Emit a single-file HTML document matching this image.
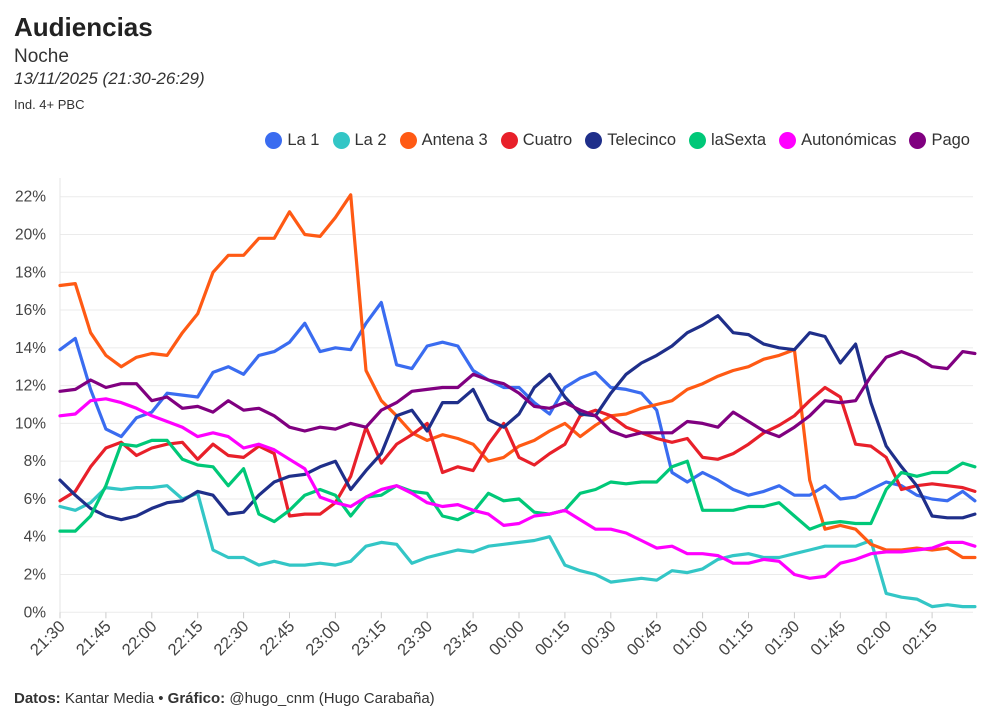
<!DOCTYPE html>
<html><head><meta charset="utf-8">
<style>
body{margin:0;background:#fff;font-family:"Liberation Sans",sans-serif;color:#333;}
#wrap{position:relative;width:1000px;height:724px;overflow:hidden;}
.t{position:absolute;left:14px;white-space:nowrap;}
#legend{position:absolute;top:131px;right:30px;display:flex;gap:13px;font-size:16.5px;color:#333;}
.li{display:flex;align-items:center;gap:5px;}
.dot{width:17px;height:17px;border-radius:50%;display:inline-block;}
</style></head>
<body><div id="wrap">
<div class="t" style="top:12px;font-size:26px;font-weight:bold;color:#222;">Audiencias</div>
<div class="t" style="top:46px;font-size:19px;color:#333;">Noche</div>
<div class="t" style="top:69px;font-size:17px;font-style:italic;color:#333;">13/11/2025 (21:30-26:29)</div>
<div class="t" style="top:97px;font-size:13px;color:#333;">Ind. 4+ PBC</div>
<div id="legend"></div>
<svg id="chart" width="1000" height="724" style="position:absolute;left:0;top:0"></svg>
<div class="t" style="top:690px;font-size:15px;color:#333;"><b>Datos:</b> Kantar Media • <b>Gráfico:</b> @hugo_cnm (Hugo Carabaña)</div>
</div>
<script>
const minutes=[0,5,10,15,20,25,30,35,40,45,50,55,60,65,70,75,80,85,90,95,100,105,110,115,120,125,130,135,140,145,150,155,160,165,170,175,180,185,190,195,200,205,210,215,220,225,230,235,240,245,250,255,260,265,270,275,280,285,290,295,299];
const seriesNames=["La 1","La 2","Antena 3","Cuatro","Telecinco","laSexta","Autonómicas","Pago"];
const la1=[13.9,14.5,11.8,9.7,9.3,10.3,10.6,11.6,11.5,11.4,12.7,13.0,12.6,13.6,13.8,14.3,15.3,13.8,14.0,13.9,15.3,16.4,13.1,12.9,14.1,14.3,14.1,12.8,12.3,11.9,11.9,11.1,10.5,11.9,12.4,12.7,11.9,11.8,11.6,10.7,7.4,6.9,7.4,7.0,6.5,6.2,6.4,6.7,6.2,6.2,6.7,6.0,6.1,6.5,6.9,6.7,6.2,6.0,5.9,6.4,5.9];
const la2=[5.6,5.4,5.8,6.6,6.5,6.6,6.6,6.7,6.0,6.3,3.3,2.9,2.9,2.5,2.7,2.5,2.5,2.6,2.5,2.7,3.5,3.7,3.6,2.6,2.9,3.1,3.3,3.2,3.5,3.6,3.7,3.8,4.0,2.5,2.2,2.0,1.6,1.7,1.8,1.7,2.2,2.1,2.3,2.8,3.0,3.1,2.9,2.9,3.1,3.3,3.5,3.5,3.5,3.8,1.0,0.8,0.7,0.3,0.4,0.3,0.3];
const antena3=[17.3,17.4,14.8,13.6,13.0,13.5,13.7,13.6,14.8,15.8,18.0,18.9,18.9,19.8,19.8,21.2,20.0,19.9,20.9,22.1,12.8,11.2,10.4,9.5,9.1,9.4,9.2,8.9,8.0,8.2,8.8,9.1,9.6,10.0,9.3,9.9,10.4,10.5,10.8,11.0,11.2,11.8,12.1,12.5,12.8,13.0,13.4,13.6,13.9,7.0,4.4,4.6,4.4,3.6,3.3,3.3,3.4,3.3,3.4,2.9,2.9];
const cuatro=[5.9,6.4,7.7,8.7,9.0,8.3,8.7,8.9,9.0,8.1,8.9,8.3,8.2,8.8,8.4,5.1,5.2,5.2,5.8,7.2,9.8,7.9,8.9,9.4,10.0,7.4,7.7,7.5,8.9,10.0,8.2,7.8,8.4,8.9,10.4,10.7,10.4,9.8,9.5,9.2,9.0,9.2,8.2,8.1,8.4,8.9,9.5,9.9,10.4,11.2,11.9,11.4,8.9,8.8,8.2,6.5,6.7,6.8,6.7,6.6,6.4];
const telecinco=[7.0,6.2,5.5,5.1,4.9,5.1,5.5,5.8,5.9,6.4,6.2,5.2,5.3,6.2,6.9,7.2,7.3,7.7,8.0,6.5,7.5,8.4,10.4,10.7,9.6,11.1,11.1,11.8,10.2,9.8,10.5,11.9,12.6,11.4,10.5,10.4,11.6,12.6,13.2,13.6,14.1,14.8,15.2,15.7,14.8,14.7,14.2,14.0,13.9,14.8,14.6,13.2,14.2,11.1,8.8,7.7,6.7,5.1,5.0,5.0,5.2];
const lasexta=[4.3,4.3,5.1,6.7,8.9,8.8,9.1,9.1,8.1,7.8,7.7,6.7,7.6,5.2,4.8,5.4,6.2,6.5,6.2,5.1,6.1,6.2,6.7,6.4,6.3,5.1,4.9,5.3,6.3,5.9,6.0,5.3,5.2,5.4,6.3,6.5,6.9,6.8,6.9,6.9,7.7,8.0,5.4,5.4,5.4,5.6,5.6,5.8,5.1,4.4,4.7,4.8,4.7,4.7,6.5,7.4,7.2,7.4,7.4,7.9,7.7];
const autonomicas=[10.4,10.5,11.2,11.3,11.1,10.8,10.4,10.1,9.8,9.3,9.5,9.3,8.7,8.9,8.6,8.1,7.6,6.1,5.8,5.6,6.1,6.5,6.7,6.3,5.8,5.6,5.7,5.4,5.2,4.6,4.7,5.1,5.2,5.4,4.9,4.4,4.4,4.2,3.8,3.4,3.5,3.1,3.1,3.0,2.6,2.6,2.8,2.7,2.0,1.8,1.9,2.6,2.8,3.1,3.2,3.2,3.3,3.4,3.7,3.7,3.5];
const pago=[11.7,11.8,12.3,11.9,12.1,12.1,11.2,11.4,10.8,10.9,10.6,11.2,10.7,10.8,10.4,9.8,9.6,9.8,9.7,10.0,9.8,10.7,11.1,11.7,11.8,11.9,11.9,12.6,12.3,12.1,11.6,10.9,10.8,11.1,10.7,10.4,9.6,9.3,9.5,9.5,9.5,10.1,10.0,9.8,10.6,10.1,9.6,9.3,9.8,10.4,11.2,11.1,11.2,12.5,13.5,13.8,13.5,13.0,12.9,13.8,13.7];
const yTicks=[0,2,4,6,8,10,12,14,16,18,20,22];
const xTickLabels=["21:30","21:45","22:00","22:15","22:30","22:45","23:00","23:15","23:30","23:45","00:00","00:15","00:30","00:45","01:00","01:15","01:30","01:45","02:00","02:15"];

const colors=["#3a6cf0","#33c6c6","#ff5a14","#e8202a","#1f2f8a","#00c878","#ff00ff","#800080"];
const allSeries=[la1,la2,antena3,cuatro,telecinco,lasexta,autonomicas,pago];
const slugs=["la-1","la-2","antena-3","cuatro","telecinco","lasexta","autonomicas","pago"];
const X0=60,PXM=3.06,Y0=612.3,PYP=18.89;
const xs=m=>X0+m*PXM, ys=v=>Y0-v*PYP;
const NS="http://www.w3.org/2000/svg";
const svg=document.getElementById('chart');
function mk(tag,attrs,parent){const e=document.createElementNS(NS,tag);for(const k in attrs)e.setAttribute(k,attrs[k]);(parent||svg).appendChild(e);return e;}
yTicks.forEach(v=>{
  const g=mk('line',{x1:X0,x2:973,y1:ys(v),y2:ys(v),stroke:'#ebebeb','stroke-width':1});
  
  
  const t=mk('text',{x:46,y:ys(v)+5,'text-anchor':'end','font-size':15.5,fill:'#444','font-family':'Liberation Sans, sans-serif'});
  t.textContent=v+'%';
  
  
});
const ax=mk('line',{x1:X0,x2:X0,y1:178,y2:Y0,stroke:'#e6e6e6','stroke-width':1});


xTickLabels.forEach((lab,i)=>{
  const x=xs(i*15);
  const tk=mk('line',{x1:x,x2:x,y1:Y0,y2:Y0+6,stroke:'#ccc','stroke-width':1});
  
  
  const t=mk('text',{x:x+6,y:Y0+15,'text-anchor':'end','font-size':16.5,fill:'#444','font-family':'Liberation Sans, sans-serif',transform:`rotate(-45 ${x+6} ${Y0+15})`});
  t.textContent=lab;
  
  
});
allSeries.forEach((s,i)=>{
  const d=s.map((v,j)=>(j?'L':'M')+xs(minutes[j]).toFixed(1)+' '+ys(v).toFixed(1)).join(' ');
  const p=mk('path',{d:d,fill:'none',stroke:colors[i],'stroke-width':3.2,'stroke-linejoin':'round','stroke-linecap':'round'});
  
  
});
const leg=document.getElementById('legend');
seriesNames.forEach((n,i)=>{
  const it=document.createElement('div');it.className='li';
  
  
  it.innerHTML=`<span class="dot" style="background:${colors[i]}"></span><span>${n}</span>`;
  leg.appendChild(it);
});
</script>
</body></html>
